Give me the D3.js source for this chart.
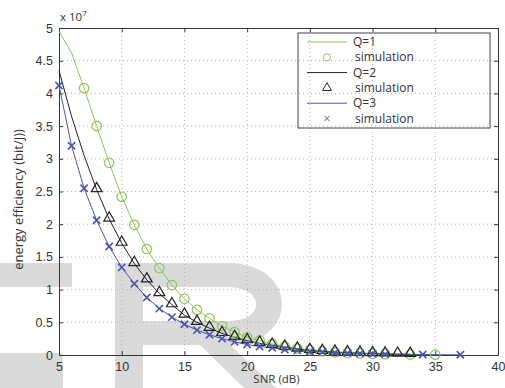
<!DOCTYPE html>
<html>
<head>
<meta charset="utf-8">
<script src="https://cdn.jsdelivr.net/npm/d3@7"></script>
<style>
  body { margin: 0; background: #fff; }
  svg { display: block; font-family: "Open Sans", "DejaVu Sans", sans-serif; }
</style>
</head>
<body>
<div id="chart"></div>
<script>
// ---- data (values in units of 1e7 bit/J) ----
const snrQ1 = [5, 6, 7, 8, 9, 10, 11, 12, 13, 14, 15, 16, 17, 18, 19, 20, 21, 22, 23, 24, 25, 26, 27, 28, 29, 30, 31, 32, 33, 34, 35];
const theoryQ1 = [4.95, 4.62, 4.08, 3.5, 2.94, 2.42, 1.99, 1.62, 1.33, 1.07, 0.86, 0.69, 0.56, 0.44, 0.35, 0.27, 0.22, 0.17, 0.13, 0.1, 0.075, 0.055, 0.042, 0.032, 0.024, 0.018, 0.013, 0.01, 0.008, 0.006, 0.005];
const simSnrQ1 = [7, 8, 9, 10, 11, 12, 13, 14, 15, 16, 17, 18, 19, 20, 21, 22, 23, 24, 25, 26, 27, 28, 29, 30, 31, 33, 35];
const simQ1 = [4.08, 3.5, 2.94, 2.42, 1.99, 1.62, 1.33, 1.07, 0.86, 0.69, 0.56, 0.44, 0.35, 0.27, 0.22, 0.17, 0.13, 0.1, 0.075, 0.055, 0.042, 0.032, 0.024, 0.018, 0.013, 0.008, 0.005];

const snrQ2 = [5, 6, 7, 8, 9, 10, 11, 12, 13, 14, 15, 16, 17, 18, 19, 20, 21, 22, 23, 24, 25, 26, 27, 28, 29, 30, 31, 32, 33];
const theoryQ2 = [4.35, 3.65, 3.05, 2.53, 2.08, 1.71, 1.4, 1.15, 0.94, 0.77, 0.61, 0.5, 0.41, 0.33, 0.27, 0.22, 0.18, 0.15, 0.12, 0.09, 0.07, 0.055, 0.045, 0.035, 0.028, 0.022, 0.017, 0.013, 0.01];
const simSnrQ2 = [8, 9, 10, 11, 12, 13, 14, 15, 16, 17, 18, 19, 20, 21, 22, 23, 24, 25, 26, 27, 28, 29, 30, 31, 32, 33];
const simQ2 = [2.53, 2.08, 1.71, 1.4, 1.15, 0.94, 0.77, 0.61, 0.5, 0.41, 0.33, 0.27, 0.22, 0.18, 0.15, 0.12, 0.09, 0.07, 0.055, 0.045, 0.035, 0.028, 0.022, 0.017, 0.013, 0.01];

const snrQ3 = [5, 6, 7, 8, 9, 10, 11, 12, 13, 14, 15, 16, 17, 18, 19, 20, 21, 22, 23, 24, 25, 26, 27, 28, 29, 30, 31, 32, 33, 34, 35, 36, 37];
const theoryQ3 = [4.12, 3.2, 2.55, 2.06, 1.66, 1.34, 1.09, 0.88, 0.71, 0.58, 0.47, 0.38, 0.31, 0.25, 0.2, 0.16, 0.13, 0.11, 0.085, 0.07, 0.055, 0.045, 0.036, 0.029, 0.023, 0.018, 0.014, 0.011, 0.009, 0.007, 0.005, 0.004, 0.003];
const simSnrQ3 = [5, 6, 7, 8, 9, 10, 11, 12, 13, 14, 15, 16, 17, 18, 19, 20, 21, 22, 23, 24, 25, 26, 27, 28, 29, 30, 31, 34, 37];
const simQ3 = [4.12, 3.2, 2.55, 2.06, 1.66, 1.34, 1.09, 0.88, 0.71, 0.58, 0.47, 0.38, 0.31, 0.25, 0.2, 0.16, 0.13, 0.11, 0.085, 0.07, 0.055, 0.045, 0.036, 0.029, 0.023, 0.018, 0.014, 0.007, 0.003];

const xTicks = [5, 10, 15, 20, 25, 30, 35, 40];
const yTicks = [0, 0.5, 1, 1.5, 2, 2.5, 3, 3.5, 4, 4.5, 5];
const legendLabels = ['Q=1', 'simulation', 'Q=2', 'simulation', 'Q=3', 'simulation'];

const green = '#8cc65a', black = '#222', blue = '#4a55ad';

const W = 505, H = 388;
const margin = { top: 28, right: 7, bottom: 33, left: 59 };
const width = W - margin.left - margin.right;
const height = H - margin.top - margin.bottom;

const root = d3.select('#chart').append('svg').attr('width', W).attr('height', H);

// faint watermark behind the figure
const wm = root.append('g').attr('fill', '#dadada');
wm.append('rect').attr('x', 0).attr('y', 263).attr('width', 72).attr('height', 24);
wm.append('rect').attr('x', 0).attr('y', 353).attr('width', 63).attr('height', 35);
wm.append('path').attr('fill-rule', 'evenodd')
  .attr('d', 'M115,263 H228 C262,263 282,282 282,304 C282,326 262,345 228,345 H143 V388 H115 Z ' +
             'M143,287 H226 C245,287 256,294 256,304 C256,315 245,321 226,321 H143 Z');
wm.append('path').attr('d', 'M200,345 L230,345 L276,388 L244,388 Z');

const svg = root.append('g').attr('transform', 'translate(' + margin.left + ',' + margin.top + ')');

const x = d3.scaleLinear().domain([5, 40]).range([0, width]);
const y = d3.scaleLinear().domain([0, 5]).range([height, 0]);

// grid
svg.append('g').selectAll('line').data(xTicks.slice(1, -1)).enter().append('line')
  .attr('x1', d => x(d)).attr('x2', d => x(d)).attr('y1', 0).attr('y2', height)
  .attr('stroke', '#b5b5b5').attr('stroke-dasharray', '1,3');
svg.append('g').selectAll('line').data(yTicks.slice(1, -1)).enter().append('line')
  .attr('x1', 0).attr('x2', width).attr('y1', d => y(d)).attr('y2', d => y(d))
  .attr('stroke', '#b5b5b5').attr('stroke-dasharray', '1,3');

// axes (matlab style, ticks inside on all four sides)
const axStyle = g => {
  g.select('.domain').attr('stroke', '#333');
  g.selectAll('.tick line').attr('stroke', '#333');
  g.selectAll('.tick text').attr('fill', '#333').style('font-size', '12.5px');
};
svg.append('g').attr('transform', 'translate(0,' + height + ')')
  .call(d3.axisBottom(x).tickValues(xTicks).tickSizeInner(-4).tickSizeOuter(0).tickPadding(7))
  .call(axStyle);
svg.append('g')
  .call(d3.axisLeft(y).tickValues(yTicks).tickFormat(d3.format('')).tickSizeInner(-4).tickSizeOuter(0).tickPadding(6))
  .call(axStyle);
svg.append('g')
  .call(d3.axisTop(x).tickValues(xTicks).tickSizeInner(-4).tickSizeOuter(0).tickFormat(''))
  .call(axStyle);
svg.append('g').attr('transform', 'translate(' + width + ',0)')
  .call(d3.axisRight(y).tickValues(yTicks).tickSizeInner(-4).tickSizeOuter(0).tickFormat(''))
  .call(axStyle);

// exponent label
const expo = svg.append('text').attr('x', 1).attr('y', -7).attr('fill', '#333').style('font-size', '11.5px');
expo.append('tspan').text('x 10');
expo.append('tspan').attr('dy', -5).style('font-size', '8px').text('7');

// axis titles
svg.append('text').attr('x', width / 2 - 2).attr('y', height + 28).attr('text-anchor', 'middle')
  .attr('fill', '#333').style('font-size', '11.5px').text('SNR (dB)');
svg.append('text').attr('transform', 'translate(' + (-36) + ',' + (height / 2 + 8) + ') rotate(-90)')
  .attr('text-anchor', 'middle').attr('fill', '#333').style('font-size', '13px')
  .text('energy efficiency (bit/J))');

// curves
const line = d3.line().x(d => x(d[0])).y(d => y(d[1]));
const curves = [
  { snr: snrQ1, val: theoryQ1, color: green },
  { snr: snrQ2, val: theoryQ2, color: black },
  { snr: snrQ3, val: theoryQ3, color: blue }
];
curves.forEach(c => {
  svg.append('path').datum(d3.zip(c.snr, c.val)).attr('d', line)
    .attr('fill', 'none').attr('stroke', c.color).attr('stroke-width', 1);
});

// markers
const circleSym = d3.symbol().type(d3.symbolCircle).size(70);
const triSym = d3.symbol().type(d3.symbolTriangle).size(50);
const xSym = d3.symbol().type(d3.symbolX).size(36);

svg.append('g').selectAll('path').data(d3.zip(simSnrQ1, simQ1)).enter().append('path')
  .attr('d', circleSym).attr('transform', d => 'translate(' + x(d[0]) + ',' + y(d[1]) + ')')
  .attr('fill', 'none').attr('stroke', green).attr('stroke-width', 1.2);
svg.append('g').selectAll('path').data(d3.zip(simSnrQ2, simQ2)).enter().append('path')
  .attr('d', triSym).attr('transform', d => 'translate(' + x(d[0]) + ',' + (y(d[1]) - 1) + ')')
  .attr('fill', 'none').attr('stroke', black).attr('stroke-width', 1.2);
svg.append('g').selectAll('path').data(d3.zip(simSnrQ3, simQ3)).enter().append('path')
  .attr('d', xSym).attr('transform', d => 'translate(' + x(d[0]) + ',' + y(d[1]) + ')')
  .attr('fill', 'none').attr('stroke', blue).attr('stroke-width', 1.6);

// legend
const lg = svg.append('g').attr('transform', 'translate(' + (298 - margin.left) + ',' + (33 - margin.top) + ')');
lg.append('rect').attr('width', 192).attr('height', 95).attr('fill', 'none').attr('stroke', '#444');
const rowY = i => 9 + i * 15.3;
const legendStyle = [
  { kind: 'line', color: green }, { kind: 'circle', color: green },
  { kind: 'line', color: black }, { kind: 'tri', color: black },
  { kind: 'line', color: blue }, { kind: 'x', color: blue }
];
legendStyle.forEach((s, i) => {
  const yy = rowY(i);
  if (s.kind === 'line') {
    lg.append('line').attr('x1', 9).attr('x2', 49).attr('y1', yy).attr('y2', yy)
      .attr('stroke', s.color).attr('stroke-width', 1);
  } else {
    const sym = s.kind === 'circle' ? d3.symbol().type(d3.symbolCircle).size(40)
      : s.kind === 'tri' ? d3.symbol().type(d3.symbolTriangle).size(35)
      : d3.symbol().type(d3.symbolX).size(20);
    lg.append('path').attr('d', sym).attr('transform', 'translate(29,' + yy + ')')
      .attr('fill', 'none').attr('stroke', s.color).attr('stroke-width', 1);
  }
  lg.append('text').attr('x', i % 2 ? 57 : 55).attr('y', yy + 4).attr('fill', '#333')
    .style('font-size', '12px').text(legendLabels[i]);
});
</script>
</body>
</html>
